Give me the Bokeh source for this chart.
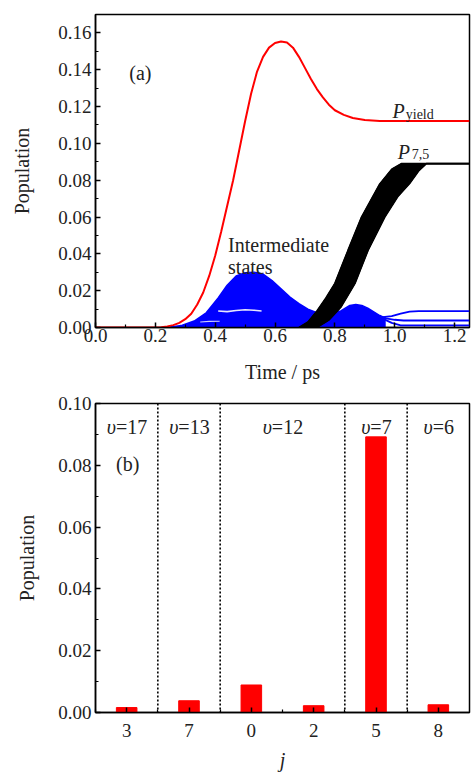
from bokeh.plotting import figure
from bokeh.layouts import column
from bokeh.models import Range1d, FixedTicker, Span, Label, NumeralTickFormatter
from bokeh.embed import file_html
from bokeh.resources import INLINE

FONT = "Liberation Serif"

# ---------------- data: panel (a) ----------------
t_yield = [0.00, 0.20, 0.22, 0.24, 0.26, 0.28, 0.30, 0.32, 0.34, 0.36, 0.38, 0.40, 0.42, 0.44,
           0.46, 0.48, 0.50, 0.52, 0.54, 0.56, 0.58, 0.60, 0.62, 0.64, 0.66, 0.68, 0.70, 0.72,
           0.74, 0.76, 0.78, 0.80, 0.83, 0.86, 0.90, 0.95, 1.00, 1.25]
p_yield = [0.0, 0.0, 0.0002, 0.0006, 0.0013, 0.0025, 0.0045, 0.0075, 0.0125, 0.019, 0.028, 0.039,
           0.052, 0.066, 0.080, 0.096, 0.112, 0.127, 0.139, 0.147, 0.152, 0.1545, 0.1553, 0.1548,
           0.152, 0.147, 0.141, 0.135, 0.1295, 0.125, 0.121, 0.118, 0.1155, 0.1138, 0.1127,
           0.1122, 0.1121, 0.1121]

t75_upper = [0.68, 0.71, 0.74, 0.77, 0.80, 0.844, 0.889, 0.95, 0.99, 1.022, 1.25]
p75_upper = [0.0, 0.003, 0.009, 0.016, 0.024, 0.042, 0.060, 0.078, 0.086, 0.089, 0.089]
t75_lower = [0.74, 0.78, 0.82, 0.867, 0.911, 0.967, 1.01, 1.05, 1.08, 1.106, 1.25]
p75_lower = [0.0, 0.004, 0.011, 0.0238, 0.0419, 0.060, 0.071, 0.0782, 0.085, 0.089, 0.089]

t_inter = [0.25, 0.29, 0.33, 0.37, 0.41, 0.44, 0.47, 0.50, 0.53, 0.56, 0.59, 0.62, 0.65, 0.68,
           0.71, 0.74, 0.78, 0.82, 0.85, 0.87, 0.89, 0.91, 0.93, 0.95, 0.97]
p_inter = [0.0, 0.0012, 0.0035, 0.008, 0.016, 0.023, 0.028, 0.0298, 0.030, 0.029, 0.0255, 0.021,
           0.0165, 0.013, 0.010, 0.008, 0.0075, 0.009, 0.012, 0.0125, 0.012, 0.0105, 0.0085, 0.0065, 0.005]

t_state_a = [0.96, 0.99, 1.02, 1.05, 1.08, 1.25]
p_state_a = [0.0056, 0.0062, 0.0075, 0.0086, 0.0089, 0.0089]
t_state_b = [0.96, 1.00, 1.03, 1.25]
p_state_b = [0.0052, 0.0042, 0.0038, 0.0038]
t_state_c = [0.25, 0.60, 0.96, 0.99, 1.02, 1.25]
p_state_c = [0.0004, 0.0006, 0.0048, 0.0025, 0.0012, 0.0012]

t_gap1 = [0.41, 0.44, 0.47, 0.50, 0.53, 0.555]
p_gap1 = [0.0090, 0.0086, 0.0092, 0.0096, 0.0094, 0.0090]
t_gap2 = [0.35, 0.38, 0.415]
p_gap2 = [0.0030, 0.0033, 0.0034]

x_ticks_a = [0.0, 0.2, 0.4, 0.6, 0.8, 1.0, 1.2]
x_minor_a = [0.1, 0.3, 0.5, 0.7, 0.9, 1.1]
y_ticks_a = [0.00, 0.02, 0.04, 0.06, 0.08, 0.10, 0.12, 0.14, 0.16]
y_minor_a = [0.01, 0.03, 0.05, 0.07, 0.09, 0.11, 0.13, 0.15]

# ---------------- data: panel (b) ----------------
j_labels = ["3", "7", "0", "2", "5", "8"]
j_pop = [0.0016, 0.0038, 0.0089, 0.0022, 0.0892, 0.0025]
v_labels = ["17", "13", "12", "7", "6"]
v_centers = [1, 2, 3.5, 5, 6]
v_dividers = [1.5, 2.5, 4.5, 5.5]
y_ticks_b = [0.00, 0.02, 0.04, 0.06, 0.08, 0.10]
y_minor_b = [0.01, 0.03, 0.05, 0.07, 0.09]

RED = "#ff0000"
BLUE = "#0000ff"
TXT = "#222222"


def style_axes(p):
    p.grid.visible = False
    p.outline_line_color = "black"
    p.outline_line_width = 1.5
    p.outline_line_alpha = 1.0
    for ax in (p.xaxis[0], p.yaxis[0]):
        ax.axis_line_width = 1.5
        ax.major_tick_in = 5
        ax.major_tick_out = 0
        ax.minor_tick_in = 3
        ax.minor_tick_out = 0
        ax.major_tick_line_width = 1.5
        ax.minor_tick_line_width = 1.2
        ax.major_label_text_font = FONT
        ax.major_label_text_font_size = "19px"
        ax.major_label_text_color = TXT
        ax.axis_label_text_font = FONT
        ax.axis_label_text_font_size = "20px"
        ax.axis_label_text_color = TXT


def lab(p, x, y, text, size="20px", style="normal", align="left", baseline="alphabetic", xo=0, yo=0):
    p.add_layout(Label(x=x, y=y, text=text, text_font=FONT, text_font_size=size,
                       text_font_style=style, text_align=align, text_baseline=baseline,
                       text_color=TXT, x_offset=xo, y_offset=yo))


# ---------------- panel (a) ----------------
p1 = figure(width=472, height=385, x_range=Range1d(0, 1.25), y_range=Range1d(0, 0.17),
            output_backend="svg", toolbar_location=None,
            min_border_left=95, min_border_right=3, min_border_top=14, min_border_bottom=58)
style_axes(p1)
p1.xaxis.ticker = FixedTicker(ticks=x_ticks_a, minor_ticks=x_minor_a)
p1.yaxis.ticker = FixedTicker(ticks=y_ticks_a, minor_ticks=y_minor_a)
p1.xaxis.formatter = NumeralTickFormatter(format="0.0")
p1.yaxis.formatter = NumeralTickFormatter(format="0.00")
p1.xaxis.axis_label = "Time / ps"
p1.yaxis.axis_label = "Population"
p1.xaxis.axis_label_text_font_style = "normal"
p1.yaxis.axis_label_text_font_style = "normal"
p1.xaxis.major_label_standoff = 1
p1.yaxis.major_label_standoff = 4
p1.xaxis.axis_label_standoff = 16
p1.yaxis.axis_label_standoff = 22

p1.varea(x=t_inter, y1=0, y2=p_inter, fill_color=BLUE)
p1.line(t_inter, p_inter, line_color=BLUE, line_width=1.5)
p1.line(t_gap1, p_gap1, line_color="white", line_width=1.6, line_alpha=0.9)
p1.line(t_gap2, p_gap2, line_color="white", line_width=1.2, line_alpha=0.8)
for tt, pp in ((t_state_a, p_state_a), (t_state_b, p_state_b), (t_state_c, p_state_c)):
    p1.line(tt, pp, line_color=BLUE, line_width=1.8)

p1.patch(t75_upper + t75_lower[::-1], p75_upper + p75_lower[::-1],
         fill_color="black", line_color="black", line_width=1)
p1.line(t75_upper, p75_upper, line_color="black", line_width=1.6)
p1.line(t75_lower, p75_lower, line_color="black", line_width=1.6)

p1.line(t_yield, p_yield, line_color=RED, line_width=2)

lab(p1, 0.15, 0.138, "(a)", align="center", baseline="middle")
lab(p1, 0.993, 0.1176, "P", style="italic")
lab(p1, 1.037, 0.1159, "yield", size="14px")
lab(p1, 1.01, 0.0955, "P", style="italic")
lab(p1, 1.057, 0.0940, "7,5", size="14px")
lab(p1, 0.443, 0.0446, "Intermediate")
lab(p1, 0.443, 0.0328, "states")

# ---------------- panel (b) ----------------
p2 = figure(width=472, height=388, x_range=Range1d(0.5, 6.5), y_range=Range1d(0, 0.10),
            output_backend="svg", toolbar_location=None,
            min_border_left=95, min_border_right=1, min_border_top=18, min_border_bottom=56)
style_axes(p2)
xpos = list(range(1, len(j_labels) + 1))
p2.xaxis.ticker = FixedTicker(ticks=xpos, minor_ticks=[0.5] + v_dividers[:2] + [3.5] + v_dividers[2:])
p2.xaxis.major_label_overrides = {i: s for i, s in zip(xpos, j_labels)}
p2.yaxis.ticker = FixedTicker(ticks=y_ticks_b, minor_ticks=y_minor_b)
p2.yaxis.formatter = NumeralTickFormatter(format="0.00")
p2.xaxis.axis_label = "j"
p2.xaxis.axis_label_text_font_style = "italic"
p2.yaxis.axis_label = "Population"
p2.yaxis.axis_label_text_font_style = "normal"
p2.xaxis.major_label_standoff = 11
p2.yaxis.major_label_standoff = 4
p2.xaxis.axis_label_standoff = 9
p2.yaxis.axis_label_standoff = 17

p2.vbar(x=xpos, top=j_pop, width=0.33, fill_color=RED, line_color=RED)
for d in v_dividers:
    p2.add_layout(Span(location=d, dimension="height", line_color="black",
                       line_dash="2 2", line_width=1.6))

CH = 20.0
for xc, v in zip(v_centers, v_labels):
    w_u = 0.5 * CH
    w_rest = (0.564 + 0.5 * len(v)) * CH
    j_off = (w_u - w_rest) / 2.0
    lab(p2, xc, 0.0925, "υ", style="italic", align="right", xo=j_off)
    lab(p2, xc, 0.0925, "=" + v, align="left", xo=j_off)
lab(p2, 1.017, 0.0803, "(b)", align="center", baseline="middle")

layout = column(p1, p2, spacing=0)
open("out.html", "w").write(file_html(layout, INLINE))
